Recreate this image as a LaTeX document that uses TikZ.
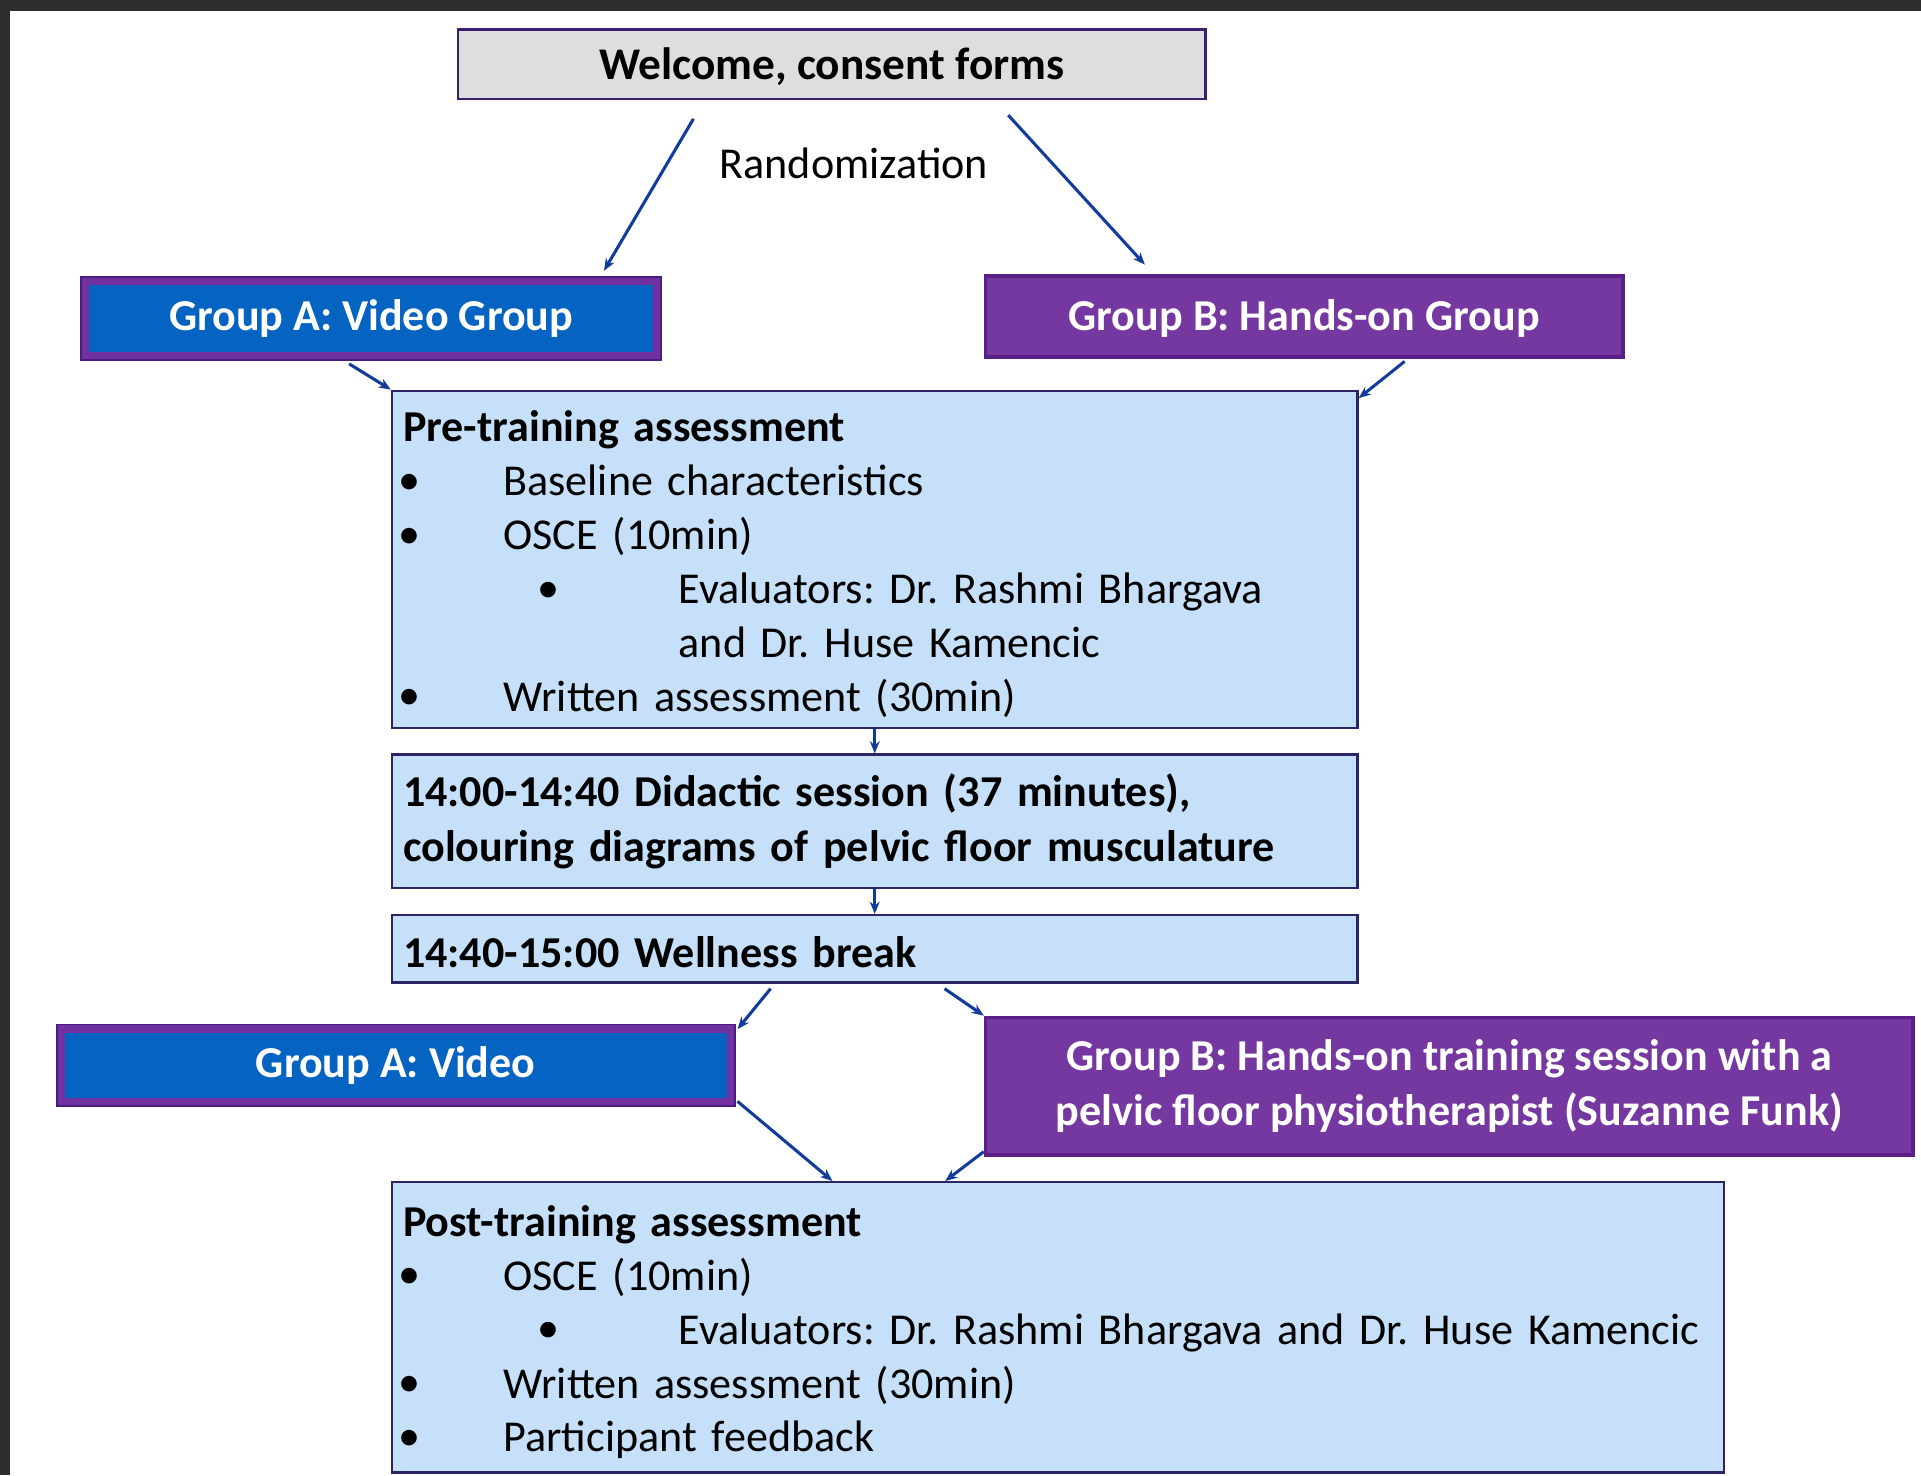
\documentclass[tikz,border=0pt]{standalone}
\usepackage{fontspec}
\setmainfont{Carlito}
\usetikzlibrary{arrows.meta}
\definecolor{bgdark}{HTML}{2E2E2E}
\definecolor{lblue}{HTML}{C5E0F8}
\definecolor{navyb}{HTML}{2B2566}
\definecolor{wfill}{HTML}{DEDEDE}
\definecolor{wborder}{HTML}{3C1E6E}
\definecolor{afill}{HTML}{0563C1}
\definecolor{aframe}{HTML}{7030A0}
\definecolor{aouter}{HTML}{4A1D7A}
\definecolor{bfill}{HTML}{7538A0}
\definecolor{bborder}{HTML}{5B2088}
\definecolor{arrc}{HTML}{123C9C}
\frenchspacing
\newcommand\bul{\makebox[82pt][l]{\hspace*{-4pt}\raisebox{1pt}{\textbullet}}}
\newcommand\subbul{\hspace*{110pt}\makebox[115pt][l]{\raisebox{1pt}{\textbullet}}}
\newcommand\firstline{\rule{0pt}{33pt}}
\begin{document}
\begin{tikzpicture}[x=1pt,y=-1pt,
  every node/.style={font=\fontsize{36}{44}\selectfont},
  lbox/.style={draw=navyb, line width=2pt, fill=lblue, anchor=north west, align=left, inner xsep=9pt, inner ysep=0pt},
  wbox/.style={draw=wborder, line width=2pt, fill=wfill, anchor=north west, font=\fontsize{37}{44}\selectfont\bfseries},
  abox/.style={preaction={draw=aouter, line width=9pt}, draw=aframe, line width=6pt, fill=afill, anchor=north west, text=white, font=\fontsize{36}{44}\selectfont\bfseries},
  bbox/.style={draw=bborder, line width=3pt, fill=bfill, anchor=north west, text=white, align=center, font=\fontsize{36}{45}\selectfont\bfseries},
  conn/.style={draw=arrc, line width=2.5pt, -{Stealth[length=10pt,width=8pt]}}
]
\useasboundingbox (0,0) rectangle (1568,1204);
\fill[bgdark] (0,0) rectangle (1568,1204);
\fill[white] (8,9) rectangle (1568,1204);

\node[wbox, minimum width=610pt, minimum height=57pt] (welcome) at (373,23) {\rule{0pt}{30pt}Welcome, consent forms};
\node[font=\fontsize{36}{44}\selectfont] (rand) at (697,133) {Randomization};

\node[abox, minimum width=466pt, minimum height=60pt] (grpA) at (67,227) {Group A: Video Group};
\node[bbox, minimum width=520pt, minimum height=66pt] (grpB) at (803,224) {\rule{0pt}{29pt}Group B: Hands-on Group};

\node[lbox, text width=770pt, minimum height=275pt] (pre) at (319,318) {%
\firstline\textbf{Pre-training assessment}\\
\bul Baseline characteristics\\
\bul OSCE (10min)\\
\subbul Evaluators: Dr. Rashmi Bhargava\\
\hspace*{225pt}and Dr. Huse Kamencic\\
\bul Written assessment (30min)};

\node[lbox, text width=770pt, minimum height=109pt, font=\fontsize{36}{45}\selectfont\bfseries] (did) at (319,615) {%
14:00-14:40 Didactic session (37 minutes),\\
colouring diagrams of pelvic floor musculature};

\node[lbox, text width=770pt, minimum height=55pt, font=\fontsize{36}{44}\selectfont\bfseries] (well) at (319,746) {\rule{0pt}{30pt}14:40-15:00 Wellness break};

\node[abox, minimum width=546pt, minimum height=59pt] (vidA) at (47,837) {Group A: Video};
\node[bbox, minimum width=757pt, minimum height=112pt] (grpB2) at (803,829) {Group B: Hands-on training session with a\\pelvic floor physiotherapist (Suzanne Funk)};

\node[lbox, text width=1069pt, minimum height=237pt] (post) at (319,964) {%
\firstline\textbf{Post-training assessment}\\
\bul OSCE (10min)\\
\subbul Evaluators: Dr. Rashmi Bhargava and Dr. Huse Kamencic\\
\bul Written assessment (30min)\\
\bul Participant feedback};

\draw[conn] ([xshift=-113pt,yshift=-15pt]welcome.south) -- ([xshift=190pt,yshift=6pt]grpA.north);
\draw[conn] ([xshift=144pt,yshift=-12pt]welcome.south) -- ([xshift=-130pt,yshift=8pt]grpB.north);
\draw[conn] ([xshift=-18pt,yshift=-4pt]grpA.south) -- (pre.north west);
\draw[conn] ([xshift=82pt,yshift=-2pt]grpB.south) -- ([yshift=-7pt]pre.north east);
\draw[conn] (pre.south) -- (did.north);
\draw[conn] (did.south) -- (well.north);
\draw[conn] ([xshift=-85pt,yshift=-4pt]well.south) -- ([xshift=3pt,yshift=-3pt]vidA.north east);
\draw[conn] ([xshift=57pt,yshift=-4pt]well.south) -- (grpB2.north west);
\draw[conn] ([xshift=3pt,yshift=3pt]vidA.south east) -- ([xshift=-184pt]post.north);
\draw[conn] ([yshift=4pt]grpB2.south west) -- ([xshift=-92pt]post.north);
\end{tikzpicture}
\end{document}
